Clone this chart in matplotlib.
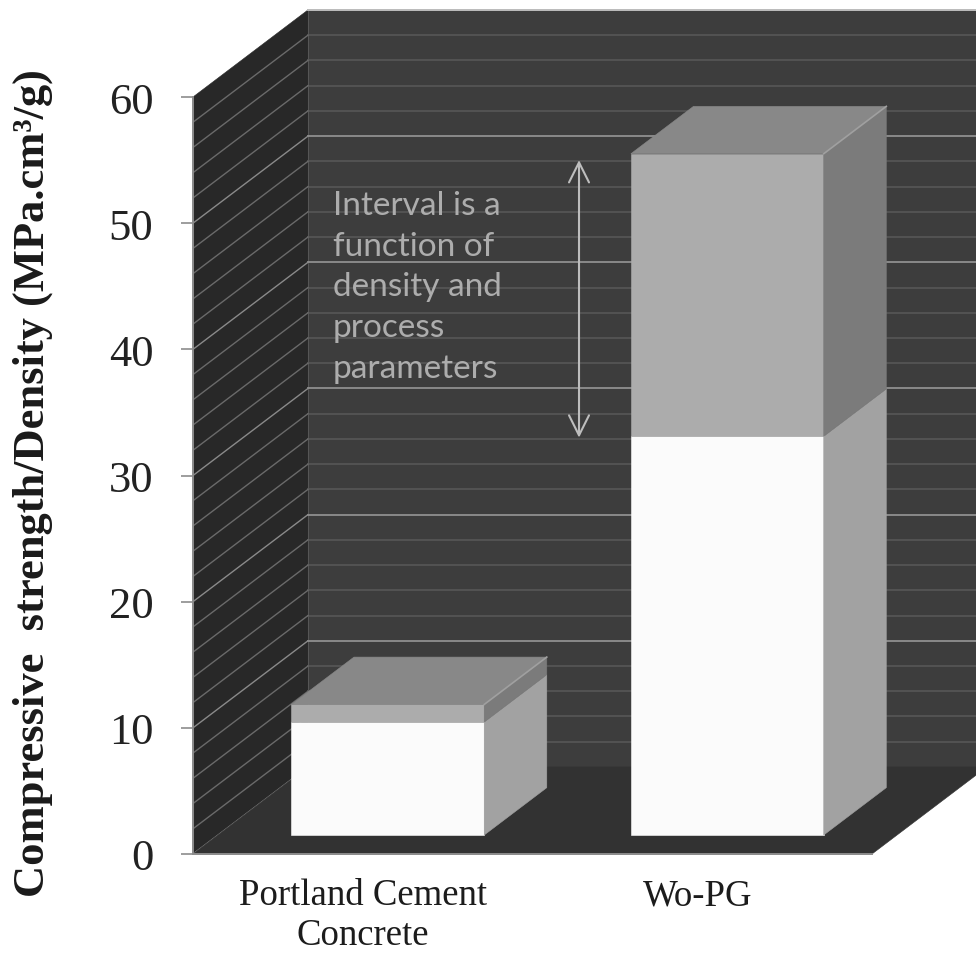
import matplotlib
matplotlib.use('Agg')
import numpy as np
import matplotlib.pyplot as plt
from matplotlib.patches import Polygon
from matplotlib.transforms import ScaledTranslation

categories = ['Portland Cement\nConcrete', 'Wo-PG']
base_strength = [8.95, 31.6]
interval_strength = [1.4, 22.4]
major_ticks = [0, 10, 20, 30, 40, 50, 60]
minor_ticks = list(range(0, 61, 2))

# oblique offset of the back wall, in axis units
DEPTH_X = 0.3387
DEPTH_Y = 6.9
BAR_WIDTH = 0.568
BAR_NEAR = 0.218
BAR_FAR = 0.762


def quad(ax, pts, color, z=2):
    ax.add_patch(Polygon(pts, closed=True, facecolor=color, edgecolor=color,
                         linewidth=0.4, zorder=z, clip_on=False))


def draw_walls(ax):
    x0, x1 = -0.5, 1.5
    # back wall, side wall, floor
    quad(ax, [(x0 + DEPTH_X, DEPTH_Y), (x1 + DEPTH_X, DEPTH_Y),
              (x1 + DEPTH_X, 60 + DEPTH_Y), (x0 + DEPTH_X, 60 + DEPTH_Y)], '#3d3d3d', 1)
    quad(ax, [(x0, 0), (x0 + DEPTH_X, DEPTH_Y),
              (x0 + DEPTH_X, 60 + DEPTH_Y), (x0, 60)], '#282828', 1)
    quad(ax, [(x0, 0), (x1, 0), (x1 + DEPTH_X, DEPTH_Y), (x0 + DEPTH_X, DEPTH_Y)], '#323232', 1.5)

    for v in minor_ticks:
        major = v in major_ticks
        wall_col = '#909090' if major else '#555555'
        side_col = '#8a8a8a' if major else '#6a6a6a'
        if v > 0:
            ax.plot([x0 + DEPTH_X, x1 + DEPTH_X], [v + DEPTH_Y, v + DEPTH_Y],
                    color=wall_col, lw=1.3, zorder=1.2, clip_on=False)
        if v < 60:
            ax.plot([x0, x0 + DEPTH_X], [v, v + DEPTH_Y],
                    color=side_col, lw=1.0, zorder=1.2, clip_on=False)
    # pale edge along the top of the back wall
    ax.plot([x0 + DEPTH_X, x1 + DEPTH_X], [60 + DEPTH_Y, 60 + DEPTH_Y],
            color='#c4c4c4', lw=1.2, zorder=1.3, clip_on=False)


def draw_bar(ax, center, low, high, front, side, top=None):
    left = center - BAR_WIDTH / 2 + BAR_NEAR * DEPTH_X
    right = left + BAR_WIDTH
    y_near = BAR_NEAR * DEPTH_Y
    span = BAR_FAR - BAR_NEAR
    dx = span * DEPTH_X
    dy = span * DEPTH_Y
    quad(ax, [(left, y_near + low), (right, y_near + low),
              (right, y_near + high), (left, y_near + high)], front, 3)
    quad(ax, [(right, y_near + low), (right + dx, y_near + low + dy),
              (right + dx, y_near + high + dy), (right, y_near + high)], side, 3)
    if top:
        quad(ax, [(left, y_near + high), (right, y_near + high),
                  (right + dx, y_near + high + dy), (left + dx, y_near + high + dy)], top, 3)
        # light bevel where the lid meets the side face
        ax.plot([right, right + dx], [y_near + high, y_near + high + dy],
                color='#a0a0a0', lw=1.2, zorder=3.2, clip_on=False)


fig = plt.figure(figsize=(9.76, 9.54), dpi=100, facecolor='white')
ax = fig.add_axes([193 / 976, (954 - 855) / 954, 679 / 976, 757 / 954])
ax.set_xlim(-0.5, 1.5)
ax.set_ylim(0, 60)
ax.patch.set_visible(False)

for name in ['top', 'right']:
    ax.spines[name].set_visible(False)
for name in ['left', 'bottom']:
    ax.spines[name].set_color('#8c8c8c')
    ax.spines[name].set_linewidth(1.4)
    ax.spines[name].set_zorder(4)

draw_walls(ax)

for i in range(len(categories)):
    base = base_strength[i]
    total = base + interval_strength[i]
    draw_bar(ax, i, 0, base, '#fbfbfb', '#a2a2a2')
    draw_bar(ax, i, base, total, '#acacac', '#7b7b7b', '#888888')

ax.set_yticks(major_ticks)
ax.set_yticklabels([str(t) for t in major_ticks], family='Liberation Serif',
                   fontsize=32, color='#222222')
ax.tick_params(axis='y', length=8.5, width=1.2, color='#8c8c8c', pad=20)
ax.set_xticks(range(len(categories)))
ax.set_xticklabels(categories, family='Liberation Serif', fontsize=26.5,
                   color='#1c1c1c', linespacing=1.2)
ax.tick_params(axis='x', length=0, pad=17)
# the second category label sits a little left of its slot
label = ax.get_xticklabels()[1]
label.set_transform(label.get_transform() + ScaledTranslation(-5 / 100, 0, fig.dpi_scale_trans))

fig.text(33 / 976, 1 - 483 / 954, 'Compressive  strength/Density (MPa.cm\u00b3/g)',
         family='Liberation Serif', fontweight='bold', fontsize=32, color='#1a1a1a',
         rotation=90, ha='center', va='center')

ax.text(-0.0876, 52.6, 'Interval is a\nfunction of\ndensity and\nprocess\nparameters',
        family='Lato', fontsize=24, color='#adadad', va='top', ha='left',
        linespacing=1.44, zorder=5)
ax.annotate('', xy=(0.637, 55.0), xytext=(0.637, 33.0),
            arrowprops=dict(arrowstyle='<->,head_length=1.44,head_width=0.72',
                            mutation_scale=10, color='#bdbdbd',
                            lw=1.5, shrinkA=0, shrinkB=0), zorder=5)

fig.savefig('out.png', dpi=100)
